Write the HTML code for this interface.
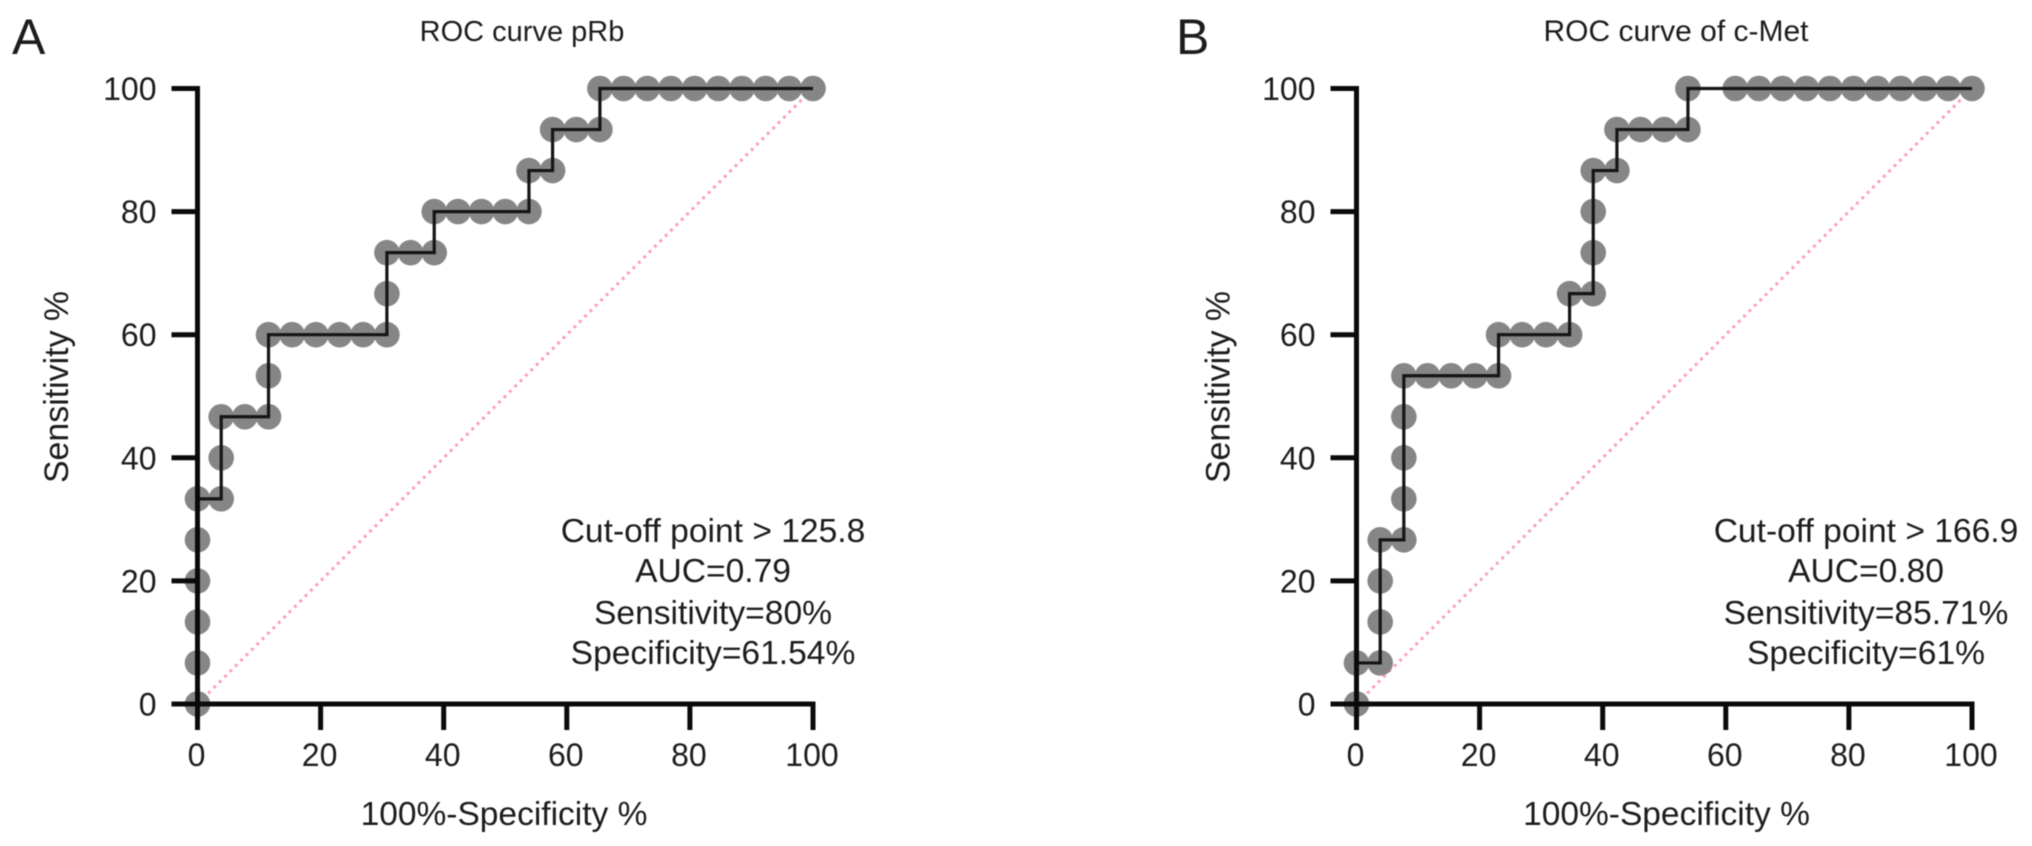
<!DOCTYPE html>
<html lang="en">
<head>
<meta charset="utf-8">
<title>ROC curves pRb and c-Met</title>
<style>
html,body{margin:0;padding:0;background:#fff;}
svg{display:block;filter:blur(0.6px);}
text{font-family:"Liberation Sans",Arial,sans-serif;fill:#1c1c1c;}
</style>
</head>
<body>
<svg id="figure" width="2032" height="846" viewBox="0 0 2032 846" xmlns="http://www.w3.org/2000/svg">
  <rect width="2032" height="846" fill="#fff"/>
  <g id="panel-a">
    <text x="12" y="54" font-size="50">A</text>
    <text x="522" y="41" font-size="29" text-anchor="middle">ROC curve pRb</text>
    <text x="504" y="825" font-size="33.5" text-anchor="middle">100%-Specificity %</text>
    <text transform="translate(68 387) rotate(-90)" font-size="33.9" text-anchor="middle">Sensitivity %</text>
    <g font-size="33.6" text-anchor="middle">
      <text x="713" y="542">Cut-off point &gt; 125.8</text>
      <text x="713" y="582">AUC=0.79</text>
      <text x="713" y="624">Sensitivity=80%</text>
      <text x="713" y="664">Specificity=61.54%</text>
    </g>
  </g>
  <g id="panel-b">
    <text x="1176" y="54" font-size="50">B</text>
    <text x="1676" y="41" font-size="30" text-anchor="middle">ROC curve of c-Met</text>
    <text x="1666.5" y="825" font-size="33.5" text-anchor="middle">100%-Specificity %</text>
    <text transform="translate(1229.5 387) rotate(-90)" font-size="33.9" text-anchor="middle">Sensitivity %</text>
    <g font-size="33.6" text-anchor="middle">
      <text x="1866" y="542">Cut-off point &gt; 166.9</text>
      <text x="1866" y="582">AUC=0.80</text>
      <text x="1866" y="624">Sensitivity=85.71%</text>
      <text x="1866" y="664">Specificity=61%</text>
    </g>
  </g>
</svg>
<script>
var xTicks = [0, 20, 40, 60, 80, 100];
var yTicks = [0, 20, 40, 60, 80, 100];
var diagonalX = [0, 100];
var diagonalY = [0, 100];

var prbFpr = [0, 0, 0, 0, 0, 0, 3.85, 3.85, 3.85, 7.69, 11.54, 11.54, 11.54, 15.38, 19.23, 23.08, 26.92, 30.77, 30.77, 30.77, 34.62, 38.46, 38.46, 42.31, 46.15, 50, 53.85, 53.85, 57.69, 57.69, 61.54, 65.38, 65.38, 69.23, 73.08, 76.92, 80.77, 84.62, 88.46, 92.31, 96.15, 100];
var prbTpr = [0, 6.67, 13.33, 20, 26.67, 33.33, 33.33, 40, 46.67, 46.67, 46.67, 53.33, 60, 60, 60, 60, 60, 60, 66.67, 73.33, 73.33, 73.33, 80, 80, 80, 80, 80, 86.67, 86.67, 93.33, 93.33, 93.33, 100, 100, 100, 100, 100, 100, 100, 100, 100, 100];

var metFpr = [0, 0, 3.85, 3.85, 3.85, 3.85, 7.69, 7.69, 7.69, 7.69, 7.69, 11.54, 15.38, 19.23, 23.08, 23.08, 26.92, 30.77, 34.62, 34.62, 38.46, 38.46, 38.46, 38.46, 42.31, 42.31, 46.15, 50, 53.85, 53.85, 61.54, 65.38, 69.23, 73.08, 76.92, 80.77, 84.62, 88.46, 92.31, 96.15, 100];
var metTpr = [0, 6.67, 6.67, 13.33, 20, 26.67, 26.67, 33.33, 40, 46.67, 53.33, 53.33, 53.33, 53.33, 53.33, 60, 60, 60, 60, 66.67, 66.67, 73.33, 80, 86.67, 86.67, 93.33, 93.33, 93.33, 93.33, 100, 100, 100, 100, 100, 100, 100, 100, 100, 100, 100, 100];

var SVG_NS = 'http://www.w3.org/2000/svg';

function make(tag, attrs, parent) {
  var el = document.createElementNS(SVG_NS, tag);
  for (var k in attrs) { el.setAttribute(k, attrs[k]); }
  parent.appendChild(el);
  return el;
}

function linearX(origin) {
  return function (v) { return origin + v * 6.155; };
}

function linearY(v) {
  return 704 - v * 6.155;
}

function drawPanel(groupId, prefix, origin, fpr, tpr) {
  var group = document.getElementById(groupId);
  var xScale = linearX(origin);
  var i;

  var diagonal = make('line', {
    x1: xScale(diagonalX[0]), y1: linearY(diagonalY[0]),
    x2: xScale(diagonalX[1]), y2: linearY(diagonalY[1]),
    stroke: '#fc9fb4', 'stroke-width': 3, 'stroke-dasharray': '3 4.6'
  }, group);
  
  

  var points = make('g', { fill: '#868686' }, group);
  
  
  for (i = 0; i < fpr.length; i++) {
    var dot = make('circle', { cx: xScale(fpr[i]), cy: linearY(tpr[i]), r: 12.8 }, points);
    
    
  }

  var coords = [];
  for (i = 0; i < fpr.length; i++) {
    coords.push(xScale(fpr[i]).toFixed(2) + ',' + linearY(tpr[i]).toFixed(2));
  }
  var curve = make('polyline', {
    points: coords.join(' '), fill: 'none', stroke: '#151515',
    'stroke-width': 3.2, 'stroke-linejoin': 'miter'
  }, group);
  
  

  var yAxis = make('line', {
    x1: xScale(0), y1: linearY(100) - 2.5, x2: xScale(0), y2: 730,
    stroke: '#0a0a0a', 'stroke-width': 5
  }, group);
  
  

  var xAxis = make('line', {
    x1: xScale(0) - 26, y1: linearY(0), x2: xScale(100) + 2.5, y2: linearY(0),
    stroke: '#0a0a0a', 'stroke-width': 5
  }, group);
  
  

  for (i = 0; i < xTicks.length; i++) {
    var xTick = make('line', {
      x1: xScale(xTicks[i]), y1: linearY(0), x2: xScale(xTicks[i]), y2: 730,
      stroke: '#0a0a0a', 'stroke-width': 5
    }, group);
    
    

    var xLabel = make('text', {
      x: xScale(xTicks[i]) - 1, y: 766, 'font-size': 32, 'text-anchor': 'middle'
    }, group);
    xLabel.textContent = String(xTicks[i]);
    
    
  }

  for (i = 0; i < yTicks.length; i++) {
    var yTick = make('line', {
      x1: xScale(0) - 26, y1: linearY(yTicks[i]), x2: xScale(0), y2: linearY(yTicks[i]),
      stroke: '#0a0a0a', 'stroke-width': 5
    }, group);
    
    

    var yLabel = make('text', {
      x: xScale(0) - 41, y: linearY(yTicks[i]) + 11.5, 'font-size': 32, 'text-anchor': 'end'
    }, group);
    yLabel.textContent = String(yTicks[i]);
    
    
  }
}

drawPanel('panel-a', 'panel-a', 197.5, prbFpr, prbTpr);
drawPanel('panel-b', 'panel-b', 1356.5, metFpr, metTpr);
</script>
</body>
</html>
